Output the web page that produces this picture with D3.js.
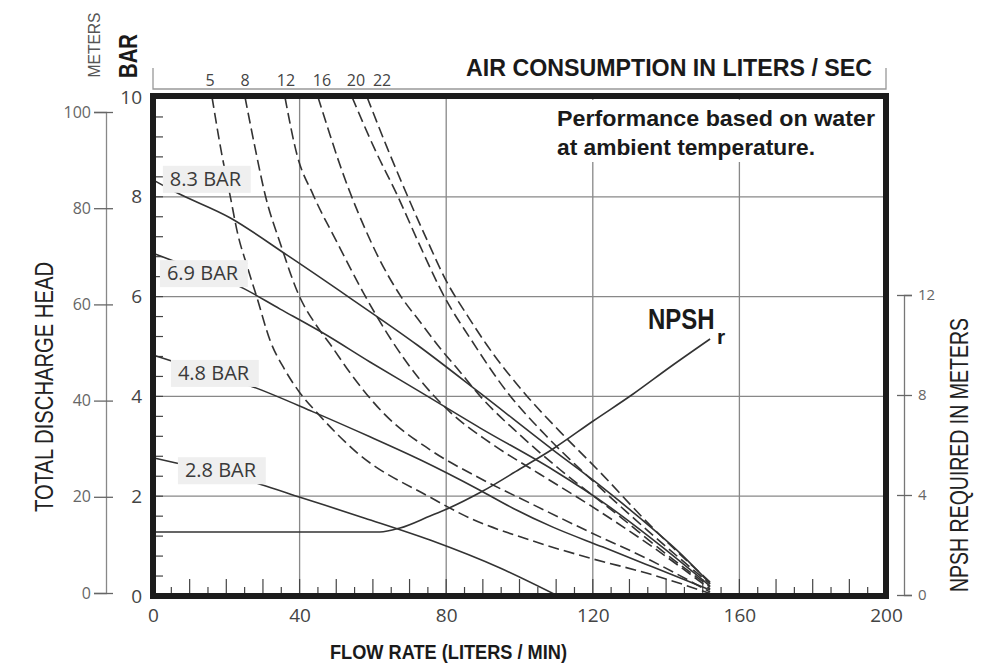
<!DOCTYPE html>
<html>
<head>
<meta charset="utf-8">
<script src="https://cdn.jsdelivr.net/npm/d3@7"></script>
<style>
body { margin: 0; background: #fff; }
svg { display: block; }
</style>
</head>
<body>
<svg class="viz" width="992" height="664"></svg>
<script>
// *** Data: flow in liters/min, head in bar ***
const flowTicks = [0, 40, 80, 120, 160, 200];
const barTicks = [0, 2, 4, 6, 8, 10];
const meterTicks = [0, 20, 40, 60, 80, 100];
const npshTicks = [0, 4, 8, 12];

// solid lines = air inlet pressure
const pressLabels = ["8.3 BAR", "6.9 BAR", "4.8 BAR", "2.8 BAR"];
const flowP83 = [0, 6.0, 21.0, 36.6, 53.8, 72.1, 89.2, 109.1, 120.1, 132.9, 143.8, 152.0];
const headP83 = [8.34, 8.10, 7.58, 6.83, 5.97, 5.03, 4.07, 2.93, 2.32, 1.56, 0.86, 0.25];
const flowP69 = [0, 11.5, 22.9, 34.7, 46.4, 59.2, 72.9, 89.2, 109.1, 123.9, 138.3, 152.0];
const headP69 = [6.87, 6.55, 6.23, 5.75, 5.27, 4.69, 4.09, 3.37, 2.53, 1.82, 1.02, 0.20];
const flowP48 = [0, 12.8, 27.3, 43.7, 59.2, 72.9, 89.2, 98.2, 109.1, 122.8, 136.4, 152.0];
const headP48 = [4.83, 4.53, 4.19, 3.69, 3.19, 2.73, 2.12, 1.76, 1.38, 0.98, 0.58, 0.12];
const flowP28 = [0, 6.0, 29.2, 40.1, 57.8, 75.6, 94.7, 110.5];
const headP28 = [2.77, 2.67, 2.24, 1.98, 1.56, 1.12, 0.56, 0];

// dashed lines = air consumption (liters/sec)
const airLabels = [5, 8, 12, 16, 20, 22];
const flowA5 = [16.1, 18.8, 21.0, 23.2, 25.6, 28.4, 31.9, 36.0, 40.1, 44.8, 55.7, 75.6, 86.5, 102.9, 119.2, 135.6, 152.0];
const headA5 = [10, 8.84, 8.04, 7.23, 6.63, 5.97, 5.13, 4.53, 4.07, 3.67, 2.87, 1.98, 1.56, 1.12, 0.76, 0.44, 0.05];
const flowA8 = [25.1, 27.8, 30.6, 34.9, 39.8, 44.5, 48.3, 53.8, 62.8, 75.6, 89.2, 102.9, 119.2, 135.6, 152.0];
const headA8 = [10, 9.0, 8.04, 7.03, 6.03, 5.43, 5.05, 4.47, 3.67, 2.93, 2.36, 1.86, 1.28, 0.72, 0.08];
const flowA12 = [36.0, 39.3, 43.7, 50.2, 57.3, 64.7, 72.9, 81.0, 92.0, 105.6, 119.2, 135.6, 152.0];
const headA12 = [10, 8.84, 8.04, 7.09, 6.09, 5.17, 4.33, 3.69, 3.07, 2.44, 1.82, 1.02, 0.14];
const flowA16 = [45.0, 48.3, 51.0, 53.8, 57.8, 61.9, 67.4, 72.9, 78.3, 83.8, 89.2, 100.1, 111.1, 126.9, 139.7, 152.0];
const headA16 = [10, 9.24, 8.64, 8.08, 7.37, 6.73, 6.03, 5.49, 4.97, 4.49, 4.01, 3.23, 2.53, 1.62, 0.86, 0.18];
const flowA20 = [54.3, 60.6, 66.6, 72.9, 79.7, 86.5, 96.6, 107.0, 119.2, 134.2, 152.0];
const headA20 = [10, 8.94, 8.04, 7.01, 5.97, 5.17, 4.09, 3.23, 2.36, 1.36, 0.24];
const flowA22 = [58.4, 63.8, 69.3, 74.8, 80.2, 85.7, 91.1, 102.0, 111.1, 122.0, 135.6, 152.0];
const headA22 = [10, 9.0, 8.04, 7.13, 6.29, 5.63, 5.03, 4.01, 3.29, 2.48, 1.42, 0.28];

// NPSH required (meters, right axis)
const npshFlow = [0, 61.9, 67.4, 75.6, 80.2, 90.0, 100.1, 109.1, 120.1, 131.0, 141.1, 152.0];
const npshReq = [2.52, 2.52, 2.68, 3.16, 3.44, 4.16, 5.04, 5.84, 6.96, 8.04, 9.12, 10.24];

const zip = (a, b) => a.map((v, i) => [v, b[i]]);
const pressSeries = [zip(flowP83, headP83), zip(flowP69, headP69), zip(flowP48, headP48), zip(flowP28, headP28)];
const airSeries = [zip(flowA5, headA5), zip(flowA8, headA8), zip(flowA12, headA12),
	zip(flowA16, headA16), zip(flowA20, headA20), zip(flowA22, headA22)];

function render() {
	let grph = d3.select(".viz");

	const x = d3.scaleLinear().domain([0, 200]).range([153, 886]);
	const y = d3.scaleLinear().domain([0, 10]).range([596, 97]);
	const yM = d3.scaleLinear().domain([0, 100]).range([593, 112]);  // meters, left outer axis
	const yN = d3.scaleLinear().domain([0, 12]).range([595, 295]);   // NPSH meters, right axis

	const sans = "'Open Sans', 'Noto Sans', sans-serif";
	const cond = "'Liberation Sans Narrow', 'Liberation Sans', Arial, sans-serif";
	const ink = "#333";

	// *** grid ***
	let grid = grph.append("g").attr("stroke", "#888").attr("stroke-width", 1.3);
	grid.selectAll(".vx").data(flowTicks.slice(1, -1)).join("line")
		.attr("x1", d => x(d)).attr("x2", d => x(d)).attr("y1", y(10)).attr("y2", y(0));
	grid.selectAll(".hy").data(barTicks.slice(1, -1)).join("line")
		.attr("y1", d => y(d)).attr("y2", d => y(d)).attr("x1", x(0)).attr("x2", x(200));

	// minor ticks inside the frame
	let minor = grph.append("g").attr("stroke", "#444").attr("stroke-width", 1.2);
	minor.selectAll(".ml").data(d3.range(0.4, 10, 0.4)).join("line")
		.attr("x1", x(0)).attr("x2", x(0) + 10).attr("y1", d => y(d)).attr("y2", d => y(d));
	minor.selectAll(".mb").data(d3.range(5, 200, 5)).join("line")
		.attr("x1", d => x(d)).attr("x2", d => x(d))
		.attr("y1", y(0)).attr("y2", d => y(0) - (d % 10 === 0 ? 17 : 9));

	// note box, white background hides the grid
	let note = grph.append("g");
	note.append("rect").attr("x", 550).attr("y", 100).attr("width", 332).attr("height", 62).attr("fill", "#fff");
	note.append("text").attr("x", 557).attr("y", 126).attr("textLength", 318).attr("lengthAdjust", "spacingAndGlyphs")
		.attr("font-family", cond).attr("font-weight", "bold").attr("font-size", 22).attr("fill", "#1a1a1a")
		.text("Performance based on water");
	note.append("text").attr("x", 557).attr("y", 155).attr("textLength", 258).attr("lengthAdjust", "spacingAndGlyphs")
		.attr("font-family", cond).attr("font-weight", "bold").attr("font-size", 22).attr("fill", "#1a1a1a")
		.text("at ambient temperature.");

	// *** curves ***
	let line = d3.line().x(d => x(d[0])).y(d => y(d[1])).curve(d3.curveMonotoneX);
	let lineN = d3.line().x(d => x(d[0])).y(d => yN(d[1])).curve(d3.curveMonotoneX);

	grph.append("g").selectAll("path").data(airSeries).join("path")
		.attr("d", line).attr("fill", "none").attr("stroke", ink)
		.attr("stroke-width", 1.6).attr("stroke-dasharray", "11,5");
	grph.append("g").selectAll("path").data(pressSeries).join("path")
		.attr("d", line).attr("fill", "none").attr("stroke", ink).attr("stroke-width", 1.6);
	grph.append("path").attr("d", lineN(zip(npshFlow, npshReq)))
		.attr("fill", "none").attr("stroke", ink).attr("stroke-width", 1.6);

	// pressure labels on grey boxes
	const labelPos = [[4.6, 8.22], [3.8, 6.33], [6.8, 4.33], [8.7, 2.38]];
	pressLabels.forEach((t, i) => {
		let g = grph.append("g");
		let r = g.append("rect").attr("fill", "#efefef");
		let tx = g.append("text").attr("x", x(labelPos[i][0])).attr("y", y(labelPos[i][1]))
			.attr("font-family", sans).attr("font-size", 20).attr("fill", "#3a3a3a").text(t);
		let bb = tx.node().getBBox();
		r.attr("x", bb.x - 7).attr("y", bb.y + 1).attr("width", bb.width + 16).attr("height", bb.height);
	});

	// NPSHr label (squeezed to look condensed)
	grph.append("text").attr("transform", "translate(648,329) scale(0.8,1)")
		.attr("font-family", cond).attr("font-weight", "bold").attr("font-size", 30).attr("fill", "#1a1a1a")
		.text("NPSH");
	grph.append("text").attr("x", 717).attr("y", 344)
		.attr("font-family", cond).attr("font-weight", "bold").attr("font-size", 21).attr("fill", "#1a1a1a")
		.text("r");

	// *** frame ***
	grph.append("rect").attr("x", x(0)).attr("y", y(10) - 1)
		.attr("width", x(200) - x(0)).attr("height", y(0) - y(10) + 1)
		.attr("fill", "none").attr("stroke", "#1c1c1c").attr("stroke-width", 6);

	// *** axes ***
	let axB = grph.append("g").attr("transform", "translate(0," + y(0) + ")")
		.call(d3.axisBottom(x).tickValues(flowTicks).tickSize(0).tickPadding(13));
	axB.select(".domain").remove();
	axB.selectAll("text").attr("font-family", sans).attr("font-size", 19).attr("fill", "#444");

	let axL = grph.append("g").attr("transform", "translate(" + x(0) + ",0)")
		.call(d3.axisLeft(y).tickValues(barTicks).tickSize(0).tickPadding(11));
	axL.select(".domain").remove();
	axL.selectAll("text").attr("font-family", sans).attr("font-size", 19).attr("fill", "#444");

	let axM = grph.append("g").attr("transform", "translate(106,0)")
		.call(d3.axisLeft(yM).tickValues(meterTicks).tickSizeOuter(0).tickSize(12).tickPadding(3));
	axM.select(".domain").attr("stroke", "#888").attr("stroke-width", 1.3);
	axM.selectAll(".tick line").attr("x1", 7).attr("x2", -12).attr("stroke", "#666").attr("stroke-width", 1.3);
	axM.selectAll("text").attr("font-family", sans).attr("font-size", 16).attr("fill", "#666");

	let axN = grph.append("g").attr("transform", "translate(904,0)")
		.call(d3.axisRight(yN).tickValues(npshTicks).tickSizeOuter(0).tickSize(8).tickPadding(6));
	axN.select(".domain").attr("stroke", "#777").attr("stroke-width", 1.3);
	axN.selectAll(".tick line").attr("x1", -7).attr("x2", 8).attr("stroke", "#666").attr("stroke-width", 1.3);
	axN.selectAll("text").attr("font-family", sans).attr("font-size", 15).attr("fill", "#666");

	// top air consumption scale
	let top = grph.append("g");
	top.append("path").attr("d", "M" + x(0) + ",68V89H" + x(200) + "V68")
		.attr("fill", "none").attr("stroke", "#999").attr("stroke-width", 1.3);
	const nudge = [-2, 0, 1, 4, 4, 15];
	top.selectAll("text").data(airLabels).join("text")
		.attr("x", (d, i) => x(airSeries[i][0][0]) + nudge[i]).attr("y", 86)
		.attr("text-anchor", "middle").attr("font-family", sans).attr("font-size", 16).attr("fill", "#444")
		.text(d => d);

	// *** titles ***
	grph.append("text").attr("x", 466).attr("y", 76).attr("textLength", 406).attr("lengthAdjust", "spacingAndGlyphs")
		.attr("font-family", cond).attr("font-weight", "bold").attr("font-size", 24).attr("fill", "#1a1a1a")
		.text("AIR CONSUMPTION IN LITERS / SEC");
	grph.append("text").attr("x", 330).attr("y", 659).attr("textLength", 237).attr("lengthAdjust", "spacingAndGlyphs")
		.attr("font-family", cond).attr("font-weight", "bold").attr("font-size", 21).attr("fill", "#1a1a1a")
		.text("FLOW RATE (LITERS / MIN)");

	const vtext = (bx, cy, len, size, bold, col, t) => grph.append("text")
		.attr("transform", "translate(" + bx + "," + cy + ")rotate(-90)")
		.attr("text-anchor", "middle").attr("textLength", len).attr("lengthAdjust", "spacingAndGlyphs")
		.attr("font-family", cond).attr("font-weight", bold ? "bold" : "normal")
		.attr("font-size", size).attr("fill", col).text(t);
	vtext(53, 387, 250, 25, false, "#222", "TOTAL DISCHARGE HEAD");
	vtext(968, 455, 274, 25, false, "#222", "NPSH REQUIRED IN METERS");
	vtext(100, 45, 65, 17, false, "#555", "METERS");
	vtext(137, 56, 44, 26, true, "#1a1a1a", "BAR");
}

render();
</script>
</body>
</html>
